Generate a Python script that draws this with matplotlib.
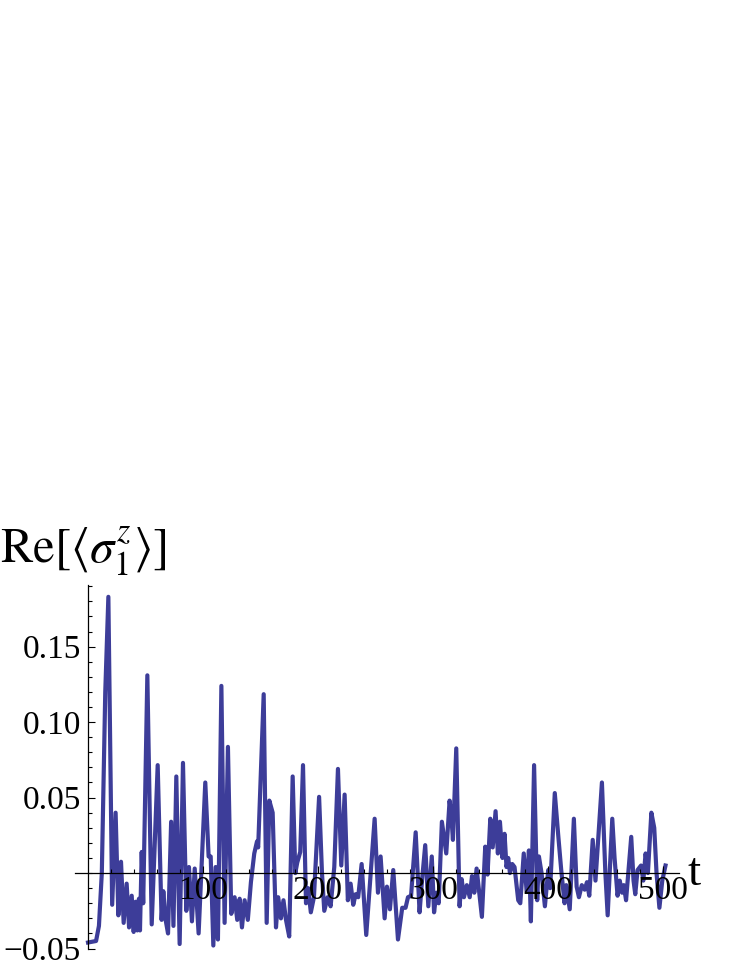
import matplotlib
matplotlib.use('Agg')
import matplotlib.pyplot as plt
from matplotlib.ticker import FixedLocator, FixedFormatter

# time samples and Re<sigma_1^z>
t = [0, 7, 9.5, 12, 15, 17.7, 21, 24, 26.4, 28.7, 31, 33.6, 35.7, 38, 39.7, 41.4,
     42.9, 44.3, 45.2, 46.7, 48, 51.6, 55.4, 60.6, 64, 65.5, 67.5, 69.6, 72.3, 74.3,
     76.8, 79.7, 82.6, 85.5, 87.8, 90.4, 92.8, 96.2, 102, 104.9, 106.7, 109, 111, 113,
     116, 118.8, 121.7, 124.6, 127.5, 129.8, 131.9, 133.9, 136.2, 139, 141.7, 144.6,
     147, 148, 152.8, 155.4, 157.7, 160.6, 163.5, 165.4, 167.8, 170, 172.2, 175, 178,
     180.3, 182, 184.6, 187, 189.6, 191.5, 193.8, 196.5, 201, 203.5, 205.5, 208.4, 211,
     214.2, 217.4, 220.3, 223.2, 226, 228.4, 230.7, 232.8, 235, 238, 242, 245.8, 249.3,
     252.2, 254.5, 258, 260, 262.6, 265.5, 269.6, 273.3, 276.2, 278.3, 281, 285, 288.4,
     290.5, 293.3, 296, 299, 301, 303, 305, 307.8, 311.6, 314.5, 316, 317.4, 320.3,
     323.2, 325, 327, 329.5, 332, 334, 336, 338, 342.6, 345.5, 347.5, 349.9, 352, 354.5,
     356.5, 358.3, 360.5, 362.3, 364, 365.5, 367, 369, 371, 374.2, 376, 379, 381.5,
     383.5, 385.2, 388, 390.7, 392.2, 394.5, 397.4, 400.3, 402, 406, 409, 411.6, 414.5,
     416, 419, 422.6, 425, 427, 429.5, 432, 434, 436, 439, 441.4, 447, 450, 452, 456,
     458, 460.6, 462.5, 464.5, 466, 468, 472.5, 474.5, 476, 478, 481, 483, 485, 487,
     490, 492.5, 494.5, 497, 499.5, 502.3]
re_sz = [-0.046, -0.045, -0.035, 0.0, 0.12, 0.183, -0.021, 0.040, -0.028, 0.0075, -0.033,
         -0.007, -0.036, -0.015, -0.039, -0.019, -0.038, -0.017, -0.038, 0.014, -0.020,
         0.131, -0.034, 0.0715, -0.031, -0.012, -0.031, -0.040, 0.034, -0.035, 0.064,
         -0.047, 0.073, -0.025, 0.004, -0.032, 0.003, -0.040, 0.060, 0.011, 0.011, -0.048,
         0.004, -0.044, 0.124, -0.033, 0.0836, -0.027, -0.016, -0.031, -0.017, -0.036,
         -0.018, -0.031, -0.006, 0.013, 0.021, 0.017, 0.1185, -0.033, 0.048, 0.040, -0.036,
         -0.016, -0.030, -0.018, -0.031, -0.042, 0.064, 0.0, 0.007, 0.014, 0.0715, -0.020,
         -0.010, -0.026, -0.016, 0.0505, 0.0, -0.025, -0.016, -0.022, 0.004, 0.069, 0.005,
         0.052, -0.018, -0.007, -0.021, -0.014, -0.016, 0.006, -0.041, -0.001, 0.036,
         -0.013, 0.011, -0.030, -0.009, -0.024, 0.002, -0.044, -0.023, -0.023, -0.016,
         -0.015, 0.027, -0.026, -0.005, 0.0185, -0.022, 0.011, -0.026, -0.013, -0.020,
         0.034, 0.013, 0.048, 0.038, 0.022, 0.0826, -0.022, -0.004, -0.016, -0.008, -0.016,
         -0.002, -0.013, 0.003, -0.029, 0.0175, -0.001, 0.036, 0.017, 0.041, 0.013, 0.034,
         0.010, 0.026, 0.004, 0.010, 0.0, 0.006, 0.004, -0.018, -0.020, 0.013, -0.012,
         0.015, -0.032, 0.0715, -0.018, 0.011, 0.0, -0.022, 0.002, -0.010, 0.053, 0.025,
         0.002, -0.020, -0.008, -0.024, 0.036, -0.009, -0.016, -0.008, -0.011, -0.006,
         -0.015, 0.022, -0.005, 0.060, 0.0, -0.028, 0.036, 0.010, -0.015, -0.005, -0.013,
         -0.008, -0.018, 0.024, -0.005, -0.014, 0.002, 0.005, -0.005, 0.013, 0.0, 0.040,
         0.030, 0.0, -0.023, -0.005, 0.005]

x_major = [100, 200, 300, 400, 500]
x_labels = ['100', '200', '300', '400', '500']
y_major = [-0.05, 0.05, 0.10, 0.15]
y_labels = ['\u22120.05', '0.05', '0.10', '0.15']

plt.rcParams['mathtext.fontset'] = 'stix'
plt.rcParams['font.family'] = ['Liberation Serif', 'DejaVu Serif']

fig = plt.figure(figsize=(7.47, 9.67), dpi=100)
ax = fig.add_axes([0.1009, 0.0183, 0.808, 0.377])
ax.plot(t, re_sz, color='#3d3d99', lw=3.0, solid_joinstyle='round')
ax.set_axisbelow(False)  # tick labels drawn over the curve

ax.set_xlim(-11, 514)
ax.set_ylim(-0.0505, 0.191)

for side in ['top', 'right']:
    ax.spines[side].set_visible(False)
ax.spines['left'].set_position(('data', 0))
ax.spines['bottom'].set_position(('data', 0))
ax.spines['left'].set_linewidth(0.9)
ax.spines['bottom'].set_linewidth(0.9)

ax.xaxis.set_major_locator(FixedLocator(x_major))
ax.xaxis.set_major_formatter(FixedFormatter(x_labels))
ax.xaxis.set_minor_locator(FixedLocator([i * 20 for i in range(1, 26)]))
ax.yaxis.set_major_locator(FixedLocator(y_major))
ax.yaxis.set_major_formatter(FixedFormatter(y_labels))
ax.yaxis.set_minor_locator(FixedLocator([i / 100 for i in range(-5, 20)]))

ax.tick_params(axis='both', which='both', direction='in', labelsize=24, width=0.8)
ax.tick_params(axis='both', which='major', length=5)
ax.tick_params(axis='both', which='minor', length=3)
ax.tick_params(axis='x', which='major', pad=2)
ax.tick_params(axis='y', which='major', pad=5)

fig.text(0.0, 1 - 563 / 967, r'$\mathrm{Re}[\langle\sigma_1^z\rangle]$',
         fontsize=35, ha='left', va='baseline')
fig.text(687 / 747, 1 - 885 / 967, 't', fontsize=34, ha='left', va='baseline')

fig.savefig('out.png', dpi=100)
